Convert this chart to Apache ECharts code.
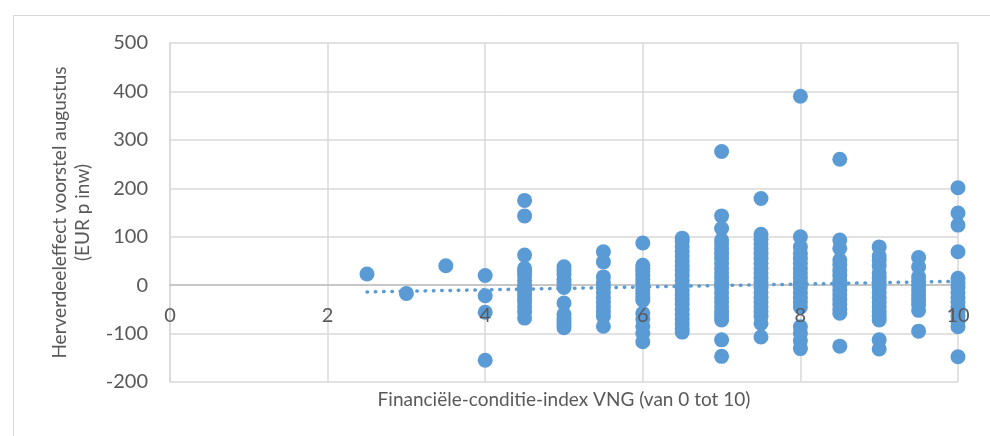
<!DOCTYPE html>
<html>
<head>
<meta charset="utf-8">
<script src="https://cdn.jsdelivr.net/npm/echarts@6/dist/echarts.min.js"></script>
<style>html,body{margin:0;padding:0;background:#fff;}#c{width:990px;height:436px;}</style>
</head>
<body>
<div id="c"></div>
<script>
const xTicks = [0, 2, 4, 6, 8, 10];
const yTicks = [-200, -100, 0, 100, 200, 300, 400, 500];
const xColumns = [2.5, 3, 3.5, 4, 4.5, 5, 5.5, 6, 6.5, 7, 7.5, 8, 8.5, 9, 9.5, 10];
const col2_5 = [23];
const col3 = [-17];
const col3_5 = [40];
const col4 = [20, -22, -56, -155];
const col4_5 = [175, 143, 62, 35, 28, 20, 10, 0, -5, -12, -20, -28, -35, -45, -55, -68];
const col5 = [38, 30, 22, 12, 5, -5, -37, -60, -68, -75, -82, -88];
const col5_5 = [69, 48, 17, 5, -5, -15, -25, -35, -45, -55, -65, -85];
const col6 = [87, 41, 35, 28, 20, 12, 5, -2, -10, -18, -25, -31, -58, -70, -85, -100, -117];
const col6_5 = [97, 90, 80, 70, 60, 50, 40, 30, 20, 10, 0, -10, -20, -30, -40, -50, -60, -70, -80, -90, -97];
const col7 = [276, 143, 117, 93, 85, 75, 65, 55, 45, 35, 25, 15, 5, -5, -15, -25, -35, -45, -55, -65, -72, -113, -147];
const col7_5 = [179, 105, 95, 85, 75, 65, 55, 45, 35, 25, 15, 5, -5, -15, -25, -35, -45, -55, -65, -79, -107];
const col8 = [390, 100, 79, 66, 55, 45, 35, 25, 15, 5, -5, -15, -25, -35, -45, -86, -100, -115, -131];
const col8_5 = [260, 93, 76, 52, 42, 30, 20, 10, 0, -10, -20, -30, -40, -50, -58, -126];
const col9 = [79, 60, 52, 40, 25, 15, 5, -5, -15, -25, -35, -45, -55, -65, -72, -113, -132];
const col9_5 = [57, 38, 17, 8, 0, -10, -20, -30, -40, -52, -95];
const col10 = [201, 149, 124, 69, 14, 5, -5, -15, -25, -35, -45, -55, -65, -75, -86, -148];
const trendX = [2.5, 10];
const trendY = [-14, 8];

const columns = [col2_5, col3, col3_5, col4, col4_5, col5, col5_5, col6, col6_5, col7, col7_5, col8, col8_5, col9, col9_5, col10];
const points = [];
columns.forEach((ys, i) => ys.forEach(y => points.push([xColumns[i], y])));
const trend = trendX.map((x, i) => [x, trendY[i]]);

const chart = echarts.init(document.getElementById('c'), null, {renderer: 'canvas'});
const txt = '#595959';
const font = 'Lato, "Noto Sans", sans-serif';
const plotH = 436 - 43 - 54;
const zeroOffset = -plotH * (0 - (-200)) / (500 - (-200));
chart.setOption({
  animation: false,
  backgroundColor: '#fff',
  graphic: [{
    type: 'rect', left: 11, top: 13, silent: true,
    shape: {width: 1000, height: 440},
    style: {fill: 'none', stroke: '#d9d9d9', lineWidth: 1}
  }, {
    type: 'text', silent: true, x: 564, y: 400,
    style: {text: 'Financiële-conditie-index VNG (van 0 tot 10)', fill: txt, font: '19px ' + font, textAlign: 'center', textVerticalAlign: 'middle'}
  }],
  grid: {left: 170, right: 32, top: 43, bottom: 54, containLabel: false},
  xAxis: [{
    type: 'value', min: 0, max: 10, interval: 2,
    axisLine: {show: false},
    axisTick: {show: false},
    axisLabel: {show: false},
    splitLine: {show: true, lineStyle: {color: '#d9d9d9', width: 1.5}}
  }, {
    type: 'value', min: 0, max: 10, interval: 2, position: 'bottom',
    offset: zeroOffset, z: 1,
    axisLine: {show: true, onZero: false, lineStyle: {color: '#bfbfbf', width: 1.5}},
    axisTick: {show: false},
    axisLabel: {show: false},
    splitLine: {show: false}
  }, {
    type: 'value', min: 0, max: 10, interval: 2, position: 'bottom',
    offset: zeroOffset, z: 10,
    axisLine: {show: false, onZero: false},
    axisTick: {show: false},
    splitLine: {show: false},
    axisLabel: {color: txt, fontSize: 20, fontFamily: font, margin: 20,
      formatter: v => xTicks.includes(v) ? String(v) : ''}
  }],
  yAxis: {
    type: 'value', min: -200, max: 500, interval: 100,
    axisLine: {show: true, lineStyle: {color: '#d9d9d9', width: 1.5}},
    axisTick: {show: false},
    splitLine: {show: true, lineStyle: {color: '#d9d9d9', width: 1.5}},
    axisLabel: {color: txt, fontSize: 20, fontFamily: font, margin: 22,
      formatter: v => yTicks.includes(v) ? String(v) : ''},
    name: 'Herverdeeleffect voorstel augustus\n(EUR p inw)',
    nameLocation: 'middle',
    nameGap: 76,
    nameTextStyle: {color: txt, fontSize: 19, fontFamily: font, lineHeight: 23}
  },
  series: [
    {
      type: 'line', data: trend, symbol: 'none', z: 2, xAxisIndex: 0,
      lineStyle: {color: '#5b9bd5', width: 3.5, type: [0.5, 7.8], cap: 'round'}
    },
    {
      type: 'scatter', data: points, symbolSize: 15, xAxisIndex: 0,
      itemStyle: {color: '#5b9bd5', opacity: 1}, z: 3
    }
  ]
});
</script>
</body>
</html>
